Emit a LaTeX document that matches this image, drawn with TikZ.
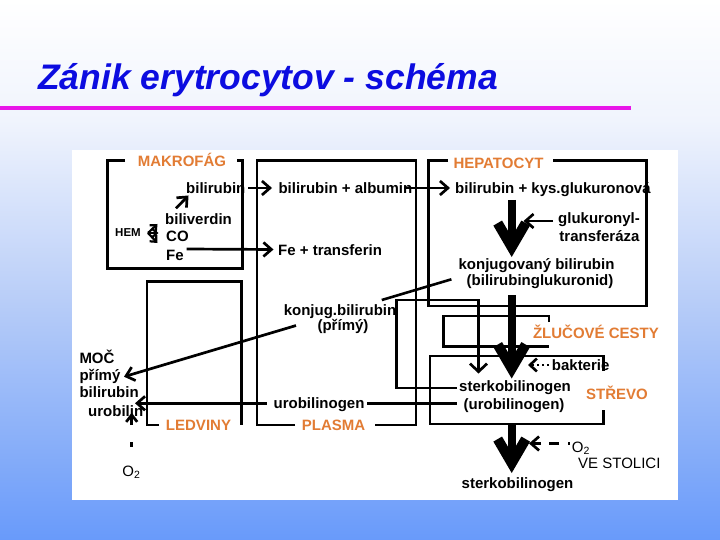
\documentclass[tikz,border=0pt]{standalone}
\usepackage{fontspec}
\setmainfont{Liberation Sans}
\usetikzlibrary{arrows.meta,calc}
\definecolor{lbl}{RGB}{226,124,52}
\definecolor{ttl}{RGB}{12,12,224}
\definecolor{mag}{RGB}{232,22,232}
\definecolor{bgA}{RGB}{240,244,253}
\definecolor{bgB}{RGB}{184,205,248}
\definecolor{bgC}{RGB}{104,154,250}
\begin{document}
\begin{tikzpicture}[x=1pt,y=-1pt,
  body/.style={font=\bfseries\fontsize{15}{17}\selectfont, inner sep=0pt, anchor=base west},
  bodyc/.style={body, anchor=base},
  lab/.style={font=\bfseries\fontsize{15}{17}\selectfont, text=lbl, inner sep=0pt, anchor=base},
  plaintxt/.style={font=\fontsize{15}{17}\selectfont, inner sep=0pt, anchor=base west},
  wall/.style={line width=2.7pt},
  arr/.style={line width=2.7pt, -{Straight Barb[length=8pt,width=14pt]}},
  smallarr/.style={line width=2.2pt, -{Straight Barb[length=5pt,width=9pt]}},
  bigarr/.style={line width=8pt, -{Straight Barb[length=24pt,width=28pt,line width=10pt]}}]
\useasboundingbox (0,0) rectangle (720,540);
% background
\shade[top color=white, bottom color=bgA] (0,-1) rectangle (720,121);
\shade[top color=bgA, bottom color=bgB] (0,120) rectangle (720,301);
\shade[top color=bgB, bottom color=bgC] (0,300) rectangle (720,541);
% title
\node[anchor=base west, font=\bfseries\itshape\fontsize{35.5}{40}\selectfont, text=ttl, inner sep=0pt] (title) at (38,90) {Zánik erytrocytov - schéma};
\fill[mag] (0,106) rectangle (631,110.5);
% white panel
\fill[white] (72,150) rectangle (677.5,499.5);

% boxes
\draw[wall] (125,160.7) -- (107.5,160.7) -- (107.5,268.3) -- (242.7,268.3) -- (242.7,160.7) -- (236.7,160.7);
\node[lab] (makrofag) at (182,166.7) {MAKROFÁG};
\draw[wall] (295,425) -- (257,425) -- (257,160.7) -- (416,160.7) -- (416,425) -- (375,425);
\node[lab] (plasma) at (333.5,430.7) {PLASMA};
\draw[wall] (448,160.7) -- (428.3,160.7) -- (428.3,306) -- (646.7,306) -- (646.7,160.7) -- (553,160.7);
\node[lab] (hepatocyt) at (498.5,168.3) {HEPATOCYT};
\draw[wall] (159,425) -- (147,425) -- (147,281.7) -- (241.7,281.7) -- (241.7,425);
\node[lab] (ledviny) at (198.5,430.7) {LEDVINY};
\draw[wall] (549,322) -- (549,316) -- (443.5,316) -- (443.5,346.7) -- (549,346.7);
\node[lab] (zluc) at (596,338.3) {ŽLUČOVÉ CESTY};
\draw[wall] (603.3,371) -- (603.3,356) -- (430,356) -- (430,424) -- (603.3,424) -- (603.3,410);
\node[lab] (strevo) at (617,399.3) {STŘEVO};

% makrofag texts
\node[body] (bil1) at (186,193.3) {bilirubin};
\node[body] (biv) at (165,224.3) {biliverdin};
\node[body] (co) at (166,241.7) {CO};
\node[body] (fe) at (166,260) {Fe};
\node[body, font=\bfseries\fontsize{11.5}{13}\selectfont] (hem) at (115,236.7) {HEM};
% plasma texts
\node[body] (alb) at (278.3,193.3) {bilirubin + albumin};
\node[body] (trf) at (278,255) {Fe + transferin};
\node[bodyc] (konj1) at (340,315) {konjug.bilirubin};
\node[bodyc] (konj2) at (343,330) {(přímý)};
\node[bodyc] (urog) at (319,408) {urobilinogen};
% hepatocyt texts
\node[body] (kys) at (455,194) {bilirubin + kys.glukuronová};
\node[bodyc] (glu1) at (599,223.7) {glukuronyl-};
\node[bodyc] (glu2) at (599.5,241.7) {transferáza};
\node[bodyc] (kb1) at (536.5,269) {konjugovaný bilirubin};
\node[bodyc] (kb2) at (540,285.7) {(bilirubinglukuronid)};
% strevo texts
\node[body] (bakt) at (551.7,370.7) {bakterie};
\node[bodyc] (sterk1) at (515,391.7) {sterkobilinogen};
\node[bodyc] (sterk2) at (514,409.5) {(urobilinogen)};
\node[plaintxt] (o2r) at (571.7,452.3) {O\textsubscript{2}};
\node[plaintxt] (stol) at (578,468.3) {VE STOLICI};
\node[bodyc] (sterk3) at (517.5,488) {sterkobilinogen};
% left texts
\node[body] (moc) at (79.3,363.5) {MOČ};
\node[body] (primy) at (79.3,380) {přímý};
\node[body] (bil2) at (79.3,397.3) {bilirubin};
\node[body] (urob) at (88,416.7) {urobilin};
\node[plaintxt, anchor=base] (o2l) at (131.5,476) {O\textsubscript{2}};

% coordinates
\coordinate (hemA) at (148,233);
\coordinate (konjS) at (451.4,279.3);
\coordinate (mocT) at (124,376.7);

% connectors
\draw[smallarr] (hemA) -- (157.5,224);
\draw[smallarr] (hemA) -- (158.5,233);
\draw[smallarr] (hemA) -- (157.5,243);
\draw[arr] (176,208.3) -- (188.5,195.5);
\draw[arr] (248,188) -- (272,188);
\draw[arr] (186.7,249) -- (273.5,249.5);
\draw[arr] (404,188) -- (450,188);
\draw[arr] (553,221) -- (523.5,221);
\draw[line width=2.6pt] (konjS) -- ($(konjS)!0.2126!(mocT)$);
\draw[arr] ($(konjS)!0.4747!(mocT)$) -- (mocT);
\draw[line width=2.6pt] (456.7,403.3) -- (366.7,403.3);
\draw[arr] (266.7,403.3) -- (135,403.3);
\draw[line width=2.7pt, -{Straight Barb[length=8pt,width=17pt]}] (456.7,388) -- (396.7,388) -- (396.7,300) -- (478.5,300) -- (478.5,373.5);
\draw[line width=2.6pt, dash pattern=on 2pt off 3pt, -{Straight Barb[length=7pt,width=13pt]}] (549,365) -- (528,365);
\draw[line width=2.7pt, dash pattern=on 2.5pt off 8.5pt on 10pt off 8pt on 20pt, -{Straight Barb[length=8pt,width=14pt]}] (570,443.5) -- (529,443.5);
\draw[line width=2.7pt, dash pattern=on 5pt off 16.7pt on 20pt, -{Straight Barb[length=7pt,width=11pt]}] (131.7,446.7) -- (131.7,412.7);
\draw[bigarr] (511.7,200) -- (511.7,257);
\draw[bigarr] (511.7,295) -- (511.7,378.5);
\draw[bigarr] (511.7,423) -- (511.7,473);
\end{tikzpicture}
\end{document}
